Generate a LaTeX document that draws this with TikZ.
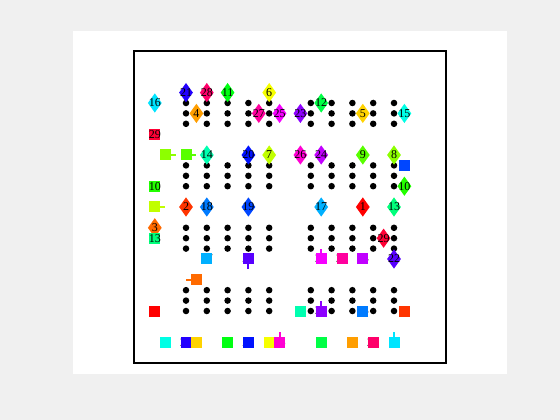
\documentclass[tikz,border=0pt]{standalone}
\usepackage{fontspec}
\setmainfont{Liberation Serif}
\usetikzlibrary{shapes.geometric}
\definecolor{figbg}{RGB}{240,240,240}
\definecolor{c1}{RGB}{255,0,0}
\definecolor{c2}{RGB}{255,53,0}
\definecolor{c3}{RGB}{255,106,0}
\definecolor{c4}{RGB}{255,158,0}
\definecolor{c5}{RGB}{255,211,0}
\definecolor{c6}{RGB}{246,255,0}
\definecolor{c7}{RGB}{193,255,0}
\definecolor{c8}{RGB}{141,255,0}
\definecolor{c9}{RGB}{88,255,0}
\definecolor{c10}{RGB}{35,255,0}
\definecolor{c11}{RGB}{0,255,18}
\definecolor{c12}{RGB}{0,255,70}
\definecolor{c13}{RGB}{0,255,123}
\definecolor{c14}{RGB}{0,255,176}
\definecolor{c15}{RGB}{0,255,229}
\definecolor{c16}{RGB}{0,229,255}
\definecolor{c17}{RGB}{0,176,255}
\definecolor{c18}{RGB}{0,123,255}
\definecolor{c19}{RGB}{0,70,255}
\definecolor{c20}{RGB}{0,18,255}
\definecolor{c21}{RGB}{35,0,255}
\definecolor{c22}{RGB}{88,0,255}
\definecolor{c23}{RGB}{141,0,255}
\definecolor{c24}{RGB}{193,0,255}
\definecolor{c25}{RGB}{246,0,255}
\definecolor{c26}{RGB}{255,0,211}
\definecolor{c27}{RGB}{255,0,158}
\definecolor{c28}{RGB}{255,0,106}
\definecolor{c29}{RGB}{255,0,53}
\begin{document}
\begin{tikzpicture}[x=0.75pt,y=-0.75pt,
  dot/.style={circle,fill=black,inner sep=0pt,minimum size=4.9pt},
  dmd/.style={diamond,fill=#1,draw=none,inner sep=0pt,minimum width=10.5pt,minimum height=14.6pt},
  sqr/.style={rectangle,fill=#1,draw=none,inner sep=0pt,minimum size=8.25pt},
  lbl/.style={inner sep=0pt,text=black,font=\fontsize{9}{10}\selectfont},
  headline/.style={draw=#1,line width=1.5pt},
]
\useasboundingbox (0,0) rectangle (560,420);
\fill[figbg] (0,0) rectangle (560,420);
\fill[white] (73,31) rectangle (507,374);
\begin{scope}[shift={(134,363)}]
\begin{scope}[x=7.8pt,y=7.8pt]
% shelves of dots
\foreach \r in {25,24,23,19,18,17,13,12,11,7,6,5}{
  \foreach \c in {5,7,9,11,13,17,19,21,23,25}{
    \node[dot] (p-\c-\r) at (\c,\r) {};
  }
}
% diamonds (targets) with labels
\foreach \n/\x/\y in {16/2/25,21/5/26,28/7/26,11/9/26,6/13/26,4/6/24,27/12/24,25/14/24,23/16/24,12/18/25,5/22/24,15/26/24,14/7/20,20/11/20,7/13/20,26/16/20,24/18/20,9/22/20,8/25/20,10/26/17,2/5/15,18/7/15,19/11/15,17/18/15,1/22/15,13/25/15,3/2/13,29/24/12,22/25/10}{
  \node[dmd=c\n] (d\n) at (\x,\y) {};
  \node[lbl] (dt\n) at (d\n) {\n};
}
% hidden square labels (drawn below squares)
\foreach \n/\x/\y in {8/3/20,9/5/20,7/2/15,17/7/10,22/11/10,25/18/10,27/20/10,24/22/10,3/6/8,1/2/5,14/16/5,23/18/5,18/22/5,2/26/5,19/26/19,15/3/2,21/5/2,5/6/2,11/9/2,20/11/2,6/13/2,26/14/2,12/18/2,4/21/2,28/23/2,16/25/2}{
  \node[lbl] (st\n) at (\x,\y) {\n};
}
% squares (agents)
\foreach \n/\x/\y in {29/2/22,8/3/20,9/5/20,10/2/17,7/2/15,13/2/12,17/7/10,22/11/10,25/18/10,27/20/10,24/22/10,3/6/8,1/2/5,14/16/5,23/18/5,18/22/5,2/26/5,19/26/19,15/3/2,21/5/2,5/6/2,11/9/2,20/11/2,6/13/2,26/14/2,12/18/2,4/21/2,28/23/2,16/25/2}{
  \node[sqr=c\n] (s\n) at (\x,\y) {};
}
% visible square labels
\node[lbl] (st29) at (s29) {29};
\node[lbl] (st10) at (s10) {10};
\node[lbl] (st13) at (s13) {13};
% heading indicators
\coordinate (h8) at (4,20);
\coordinate (h9) at (6,20);
\coordinate (h7) at (3,15);
\coordinate (h22) at (11,9);
\coordinate (h25) at (18,11);
\coordinate (h3) at (5,8);
\coordinate (h23) at (18,6);
\coordinate (h26) at (14,3);
\coordinate (h16) at (25,3);
\foreach \n in {8,9,7,22,25,3,23,26,16}{
  \draw[headline=c\n] (s\n.center) -- (h\n);
}
\end{scope}
\end{scope}
\draw[line width=1.6pt] (134,51) rectangle (446,363);
\end{tikzpicture}
\end{document}
